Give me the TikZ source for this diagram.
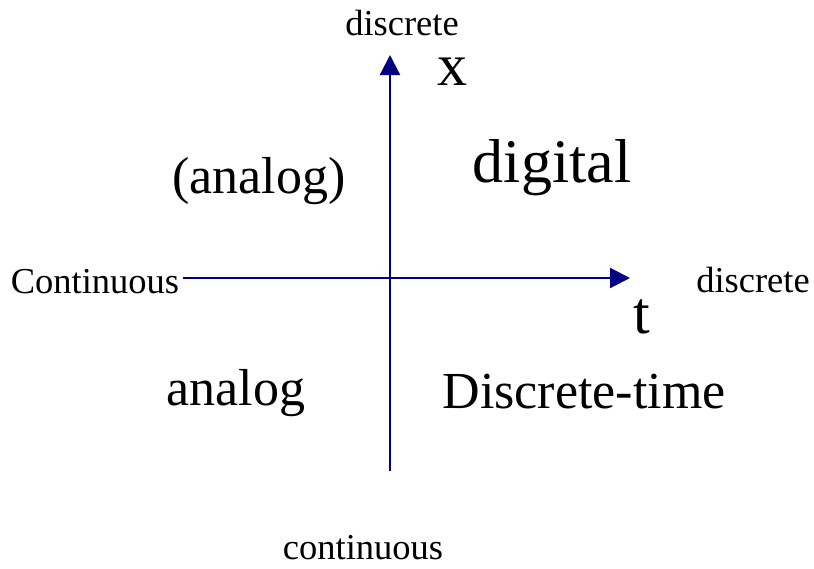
\documentclass[tikz,border=0pt]{standalone}
\usepackage{fontspec}
\setmainfont{Liberation Serif}
\usetikzlibrary{arrows.meta}
\definecolor{axisblue}{RGB}{0,0,128}
\begin{document}
\begin{tikzpicture}[x=1pt,y=-1pt,
  lbl/.style={inner sep=0pt,anchor=base,text=black},
  small/.style={lbl,font=\fontsize{36.5}{40}\selectfont},
  big/.style={lbl,font=\fontsize{52}{58}\selectfont},
  huge/.style={lbl,font=\fontsize{62}{68}\selectfont},
  letter/.style={lbl,font=\fontsize{60}{66}\selectfont},
  axis/.style={draw=axisblue,line width=2.2pt,-{Triangle[length=20pt,width=20pt]},axisblue}]
\useasboundingbox (0,0) rectangle (814,568);
\coordinate (hstart) at (183,278);
\coordinate (hend) at (630,278);
\coordinate (vstart) at (390,471);
\coordinate (vend) at (390,55);
\draw[axis] (hstart) -- (hend);
\draw[axis] (vstart) -- (vend);
\node[small] (topd) at (402,35) {discrete};
\node[letter] (xl) at (452,85) {x};
\node[huge] (dig) at (552,182) {digital};
\node[big] (pan) at (259,193) {(analog)};
\node[small] (cont) at (95,293) {Continuous};
\node[small] (rd) at (753,292) {discrete};
\node[letter] (tl) at (642,333) {t};
\node[big] (an) at (236,405) {analog};
\node[big] (dt) at (584,408) {Discrete-time};
\node[small,text depth=0pt] (bc) at (363,559) {continuous};
\end{tikzpicture}
\end{document}
